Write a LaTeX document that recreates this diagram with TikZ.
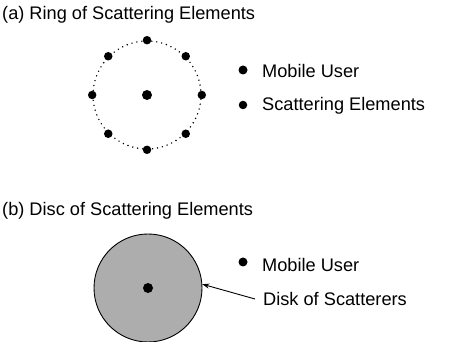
\documentclass[tikz,border=0pt]{standalone}
\usepackage{fontspec}
\setmainfont{Liberation Sans}
\usetikzlibrary{arrows.meta}
\begin{document}
\begin{tikzpicture}[x=1pt,y=1pt,
  lbl/.style={anchor=west,inner sep=0pt,font=\fontsize{18.2}{21}\selectfont},
  sdot/.style={circle,fill=black,inner sep=0pt,minimum size=8.5pt},
  bdot/.style={circle,fill=black,inner sep=0pt,minimum size=10pt}]
\useasboundingbox (0,0) rectangle (455,342);
% (a)
\node[lbl] (ta) at (2,327) {(a) Ring of Scattering Elements};
\node[circle,draw,line width=1.6pt,line cap=round,dash pattern=on 0pt off 5pt,minimum size=108pt,inner sep=0pt] (ring) at (147,247) {};
\node[bdot] (mu) at (ring.center) {};
\foreach \a in {0,45,...,315}{\node[sdot] (s\a) at (ring.\a) {};}
\node[bdot,minimum size=9pt] (lda) at (243,272) {};
\node[lbl] (lma) at (262,271) {Mobile User};
\node[sdot] (ldb) at (243,237) {};
\node[lbl] (lsa) at (262,236) {Scattering Elements};
% (b)
\node[lbl] (tb) at (2,131) {(b) Disc of Scattering Elements};
\node[circle,draw,line width=0.9pt,fill=black!32,minimum size=108pt,inner sep=0pt] (disc) at (148,54) {};
\node[bdot] (mub) at (disc.center) {};
\node[bdot,minimum size=9pt] (ldc) at (243,80) {};
\node[lbl] (lmb) at (262,77) {Mobile User};
\node[lbl] (lds) at (263,43) {Disk of Scatterers};
\draw[-{Stealth[length=7pt,width=5pt]},line width=0.9pt] ([xshift=-8pt]lds.west) -- (disc.4);
\end{tikzpicture}
\end{document}
